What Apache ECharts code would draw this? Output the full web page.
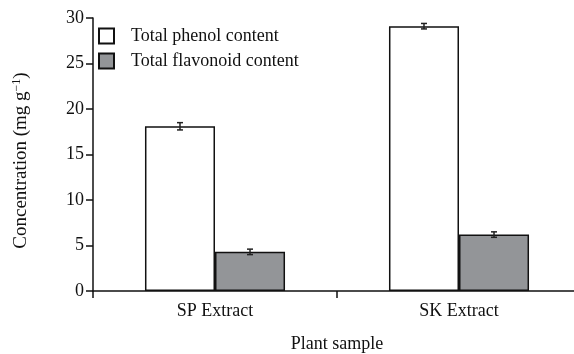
<!DOCTYPE html>
<html>
<head>
<meta charset="utf-8">
<script src="https://cdn.jsdelivr.net/npm/echarts@6/dist/echarts.min.js"></script>
<style>html,body{margin:0;padding:0;background:#fff}#c{width:574px;height:354px}</style>
</head>
<body>
<div id="c"></div>
<script>
const categories = ['SP Extract', 'SK Extract'];
const phenolValues = [18.1, 29.1];
const phenolErrors = [0.4, 0.3];
const flavonoidValues = [4.3, 6.2];
const flavonoidErrors = [0.3, 0.3];
const seriesNames = ['Total phenol content', 'Total flavonoid content'];
const yTicks = [0, 5, 10, 15, 20, 25, 30];

const FONT = 'Liberation Serif';
const BAR_FRAC = 0.287;
const chart = echarts.init(document.getElementById('c'));

function errorSeries(values, errors, sign) {
  return {
    type: 'custom',
    z: 10,
    silent: true,
    data: values.map((v, i) => [i, v, errors[i]]),
    renderItem: function (params, api) {
      const idx = api.value(0);
      const v = api.value(1);
      const e = api.value(2);
      const band = api.size([1, 0])[0];
      const off = sign * band * BAR_FRAC / 2;
      const top = api.coord([idx, v + e]);
      const bot = api.coord([idx, v - e]);
      const x = top[0] + off;
      const style = { stroke: '#222', lineWidth: 1.5, fill: null };
      return {
        type: 'group',
        children: [
          { type: 'line', shape: { x1: x, y1: top[1], x2: x, y2: bot[1] }, style },
          { type: 'line', shape: { x1: x - 3, y1: top[1], x2: x + 3, y2: top[1] }, style },
          { type: 'line', shape: { x1: x - 3, y1: bot[1], x2: x + 3, y2: bot[1] }, style }
        ]
      };
    }
  };
}

chart.setOption({
  animation: false,
  backgroundColor: '#fff',
  textStyle: { fontFamily: FONT },
  grid: { left: 93, width: 488, top: 18, bottom: 63, containLabel: false, outerBoundsMode: 'none' },
  legend: {
    orient: 'vertical',
    left: 98,
    top: 27,
    padding: 0,
    itemWidth: 15,
    itemHeight: 15,
    itemGap: 7,
    icon: 'rect',
    selectedMode: false,
    textStyle: { fontFamily: FONT, fontSize: 18, color: '#111', padding: [0, 0, 0, 12] },
    data: seriesNames
  },
  xAxis: {
    type: 'category',
    data: categories,
    name: 'Plant sample',
    nameLocation: 'middle',
    nameGap: 44,
    nameTextStyle: { fontFamily: FONT, fontSize: 18, color: '#111' },
    axisLine: { lineStyle: { color: '#111', width: 1.5 } },
    axisTick: { show: true, length: 7, lineStyle: { color: '#111', width: 1.5 } },
    axisLabel: { fontFamily: FONT, fontSize: 18, color: '#111', margin: 11 }
  },
  yAxis: {
    type: 'value',
    min: 0,
    max: 30,
    interval: 5,
    name: 'Concentration (mg g{sup|−1})',
    nameLocation: 'middle',
    nameGap: 61,
    nameTextStyle: {
      fontFamily: FONT, fontSize: 19, color: '#111', padding: [0, 12, 0, 0],
      rich: { sup: { fontFamily: FONT, fontSize: 12, color: '#111', verticalAlign: 'top', padding: [0, 0, 9, 0] } }
    },
    axisLine: { show: true, lineStyle: { color: '#111', width: 1.5 } },
    axisTick: { show: true, length: 7, lineStyle: { color: '#111', width: 1.5 } },
    splitLine: { show: false },
    axisLabel: {
      fontFamily: FONT, fontSize: 18, color: '#111', margin: 9,
      formatter: v => (yTicks.indexOf(v) >= 0 ? String(v) : '')
    }
  },
  series: [
    {
      name: seriesNames[0],
      type: 'bar',
      data: phenolValues,
      barWidth: (BAR_FRAC * 100) + '%',
      barGap: '0%',
      itemStyle: { color: '#ffffff', borderColor: '#111', borderWidth: 1.5 }
    },
    {
      name: seriesNames[1],
      type: 'bar',
      data: flavonoidValues,
      barWidth: (BAR_FRAC * 100) + '%',
      barGap: '0%',
      itemStyle: { color: '#939598', borderColor: '#111', borderWidth: 1.5 }
    },
    errorSeries(phenolValues, phenolErrors, -1),
    errorSeries(flavonoidValues, flavonoidErrors, 1)
  ]
});
</script>
</body>
</html>
